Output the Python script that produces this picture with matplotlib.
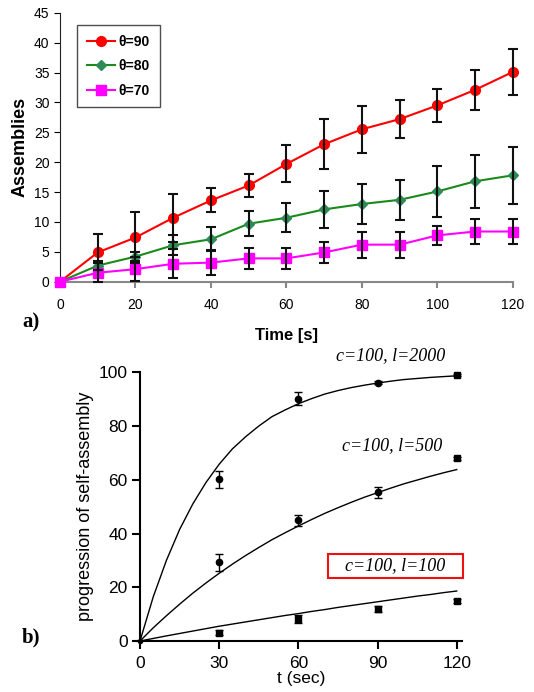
import numpy as np
import matplotlib
matplotlib.use("Agg")
import matplotlib.pyplot as plt
from matplotlib.patches import Rectangle

# ---- datos panel a) ----
t_a = [0, 10, 20, 30, 40, 50, 60, 70, 80, 90, 100, 110, 120]
theta90 = [0, 4.9, 7.4, 10.7, 13.6, 16.1, 19.7, 23.0, 25.5, 27.2, 29.5, 32.1, 35.1]
err90 = [0, 3.0, 4.2, 4.0, 2.0, 1.9, 3.1, 4.2, 3.9, 3.2, 2.7, 3.3, 3.8]
theta80 = [0, 2.7, 4.2, 6.1, 7.1, 9.7, 10.7, 12.1, 13.0, 13.7, 15.1, 16.8, 17.8]
err80 = [0, 0.8, 0.8, 1.7, 2.0, 2.1, 2.4, 3.1, 3.3, 3.4, 4.2, 4.4, 4.8]
theta70 = [0, 1.5, 2.1, 3.0, 3.2, 3.9, 3.9, 4.9, 6.2, 6.2, 7.75, 8.4, 8.4]
err70 = [0, 1.6, 2.0, 2.4, 2.1, 1.7, 1.7, 1.7, 2.2, 2.2, 1.6, 2.1, 2.1]
etiquetas_a = ["θ=90", "θ=80", "θ=70"]

# ---- datos panel b) ----
t_b = [30, 60, 90, 120]
l2000 = [60.2, 90.1, 96.2, 99.0]
e2000 = [3.1, 2.4, 0.6, 0.5]
l500 = [29.3, 44.9, 55.3, 68.0]
e500 = [3.1, 2.0, 2.1, 0.6]
l100 = [3.1, 8.1, 12.0, 14.8]
e100 = [1.0, 1.5, 1.2, 0.8]

# curvas de ajuste (cada 5 s)
t_fit = [0, 5, 10, 15, 20, 25, 30, 35, 40, 45, 50, 55, 60, 65, 70, 75, 80, 85, 90, 95, 100, 105, 110, 115, 120]
fit2000 = [0, 16.4, 30.0, 41.5, 51.0, 59.0, 65.8, 71.5, 76.0, 80.0, 83.5, 86.0, 88.3,
           90.2, 91.9, 93.2, 94.3, 95.2, 96.0, 96.7, 97.3, 97.7, 98.1, 98.4, 98.7]
fit500 = [0, 4.9, 9.4, 13.7, 17.8, 21.6, 25.2, 28.6, 31.8, 34.8, 37.7, 40.3, 42.8,
          45.2, 47.5, 49.6, 51.6, 53.5, 55.2, 56.9, 58.5, 59.9, 61.3, 62.6, 63.8]
fit100 = [0, 0.95, 1.9, 2.8, 3.7, 4.6, 5.5, 6.3, 7.1, 7.9, 8.7, 9.5, 10.2,
          11.0, 11.7, 12.5, 13.2, 13.9, 14.6, 15.3, 16.0, 16.7, 17.3, 18.0, 18.6]

plt.rcParams['font.family'] = ['Liberation Sans', 'DejaVu Sans']

fig = plt.figure(figsize=(5.34, 6.92), dpi=100)

# ================= panel a =================
ax1 = fig.add_axes([0.1124, 0.5929, 0.848, 0.3887])
ax1.plot(t_a, theta90, color='#ff0000', marker='o', ms=7, lw=1.5, label=etiquetas_a[0], clip_on=False, zorder=3)
ax1.plot(t_a, theta80, color='#1a8a1a', marker='D', ms=5, mfc='#2e8b57', mec='#2e8b57', lw=1.5, label=etiquetas_a[1], clip_on=False, zorder=3)
ax1.plot(t_a, theta70, color='#ff00ff', marker='s', ms=7, lw=1.5, label=etiquetas_a[2], clip_on=False, zorder=3)
for y, e in [(theta90, err90), (theta80, err80), (theta70, err70)]:
    ax1.errorbar(t_a[1:], y[1:], yerr=e[1:], fmt='none', ecolor='#111111', elinewidth=1.5, capsize=3.5, capthick=1.5, clip_on=False, zorder=4)

ax1.set_xlim(0, 120)
ax1.set_ylim(0, 45)
ax1.set_xticks(range(0, 121, 20))
ax1.set_yticks(range(0, 46, 5))
ax1.spines['top'].set_visible(False)
ax1.spines['right'].set_visible(False)
ax1.spines['bottom'].set_color('#888888')
ax1.spines['bottom'].set_linewidth(1.5)
ax1.spines['left'].set_color('#222222')
ax1.spines['left'].set_linewidth(0.8)
ax1.tick_params(axis='both', labelsize=10, length=4, direction='out')
ax1.tick_params(axis='x', color='#888888', width=1.5, pad=8)
ax1.tick_params(axis='y', width=0.8)
ax1.set_xlabel("Time [s]", fontsize=12, fontweight='bold', labelpad=11)
ax1.set_ylabel("Assemblies", fontsize=13, fontweight='bold', labelpad=4)

leg = ax1.legend(loc='upper left', bbox_to_anchor=(77 / 534, 1 - 25 / 692), bbox_transform=fig.transFigure,
                 prop={'weight': 'bold', 'size': 10}, frameon=True, fancybox=False, edgecolor='#222222',
                 handlelength=2.0, labelspacing=0.75, borderpad=0.7, handletextpad=0.3, borderaxespad=0)
leg.get_frame().set_linewidth(1.0)

fig.text(22 / 534, 1 - 322 / 692, "a)", fontsize=15, fontweight='bold', family='Liberation Serif', va='center')

# ================= panel b =================
ax2 = fig.add_axes([0.2622, 0.0737, 0.603, 0.3883])
ax2.plot(t_fit, fit2000, color='black', lw=1.0)
ax2.plot(t_fit, fit500, color='black', lw=1.0)
ax2.plot(t_fit, fit100, color='black', lw=1.0)

ax2.errorbar(t_b[:3], l2000[:3], yerr=e2000[:3], fmt='o', color='black', ms=4.5, capsize=3, elinewidth=1, clip_on=False)
ax2.errorbar(t_b[3:], l2000[3:], yerr=e2000[3:], fmt='s', color='black', ms=4.5, capsize=3, elinewidth=1, clip_on=False)
ax2.errorbar(t_b[:3], l500[:3], yerr=e500[:3], fmt='o', color='black', ms=4.5, capsize=3, elinewidth=1, clip_on=False)
ax2.errorbar(t_b[3:], l500[3:], yerr=e500[3:], fmt='s', color='black', ms=4.5, capsize=3, elinewidth=1, clip_on=False)
ax2.errorbar(t_b, l100, yerr=e100, fmt='s', color='black', ms=4, capsize=3, elinewidth=1, clip_on=False)
ax2.plot([0], [0], 'o', color='black', ms=3, clip_on=False)

ax2.set_xlim(0, 122)
ax2.set_ylim(0, 100)
ax2.set_xticks([0, 30, 60, 90, 120])
ax2.set_yticks([0, 20, 40, 60, 80, 100])
ax2.spines['top'].set_visible(False)
ax2.spines['right'].set_visible(False)
ax2.spines['left'].set_linewidth(1.5)
ax2.spines['bottom'].set_linewidth(1.5)
ax2.spines['bottom'].set_bounds(-1.5, 122)
ax2.tick_params(axis='both', labelsize=12.5, length=6, width=1.5, direction='out')
ax2.tick_params(axis='x', pad=5)
ax2.tick_params(axis='y', pad=3)
ax2.set_xlabel("t (sec)", fontsize=12.5, labelpad=0)
ax2.set_ylabel("progression of self-assembly", fontsize=13, labelpad=3)

serif_it = dict(family='Liberation Serif', style='italic', fontsize=13, ha='center', va='center')
fig.text(391 / 534, 1 - 356 / 692, "c=100, l=2000", **serif_it)
fig.text(392 / 534, 1 - 446 / 692, "c=100, l=500", **serif_it)
fig.text(395 / 534, 1 - 566 / 692, "c=100, l=100", **serif_it)
fig.patches.append(Rectangle((328 / 534, 1 - 578 / 692), 135 / 534, 24 / 692, transform=fig.transFigure,
                             fill=False, ec='#ee1111', lw=1.5))

fig.text(22 / 534, 1 - 637 / 692, "b)", fontsize=15, fontweight='bold', family='Liberation Serif', va='center')

fig.savefig("out.png", dpi=100)
